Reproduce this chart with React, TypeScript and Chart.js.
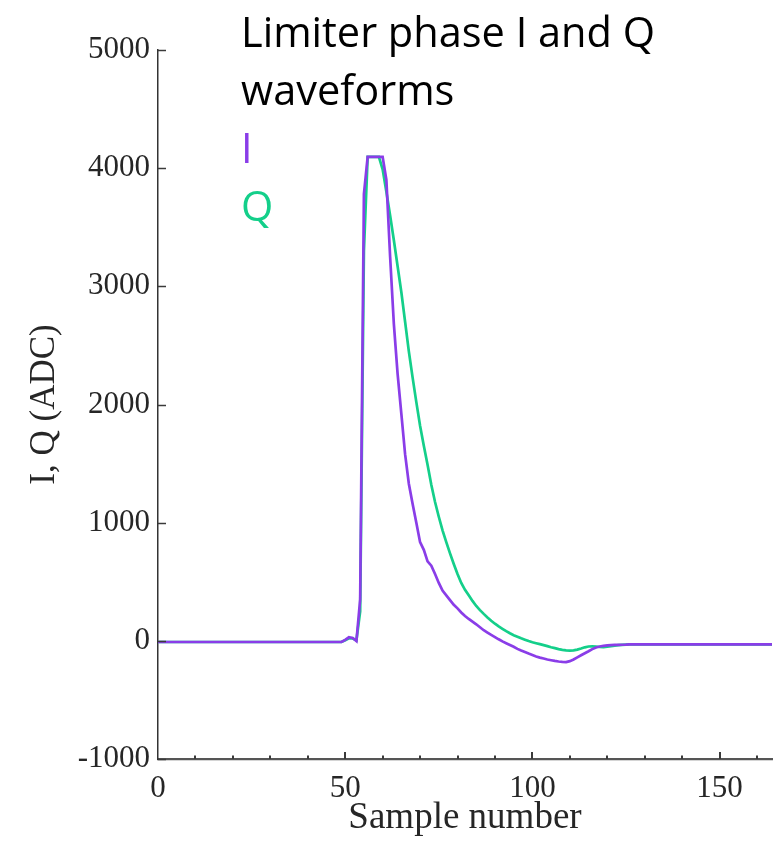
import React, { useEffect, useRef } from 'react';
import { Chart, registerables } from 'chart.js';

Chart.register(...registerables);

// Sample numbers (x axis)
const SAMPLES: number[] = Array.from({ length: 165 }, (_, i) => i);

// I waveform (ADC counts), one value per sample
const I_VALUES: number[] = [
  -10, -10, -10, -10, -10, -10, -10, -10, -10, -10,
  -10, -10, -10, -10, -10, -10, -10, -10, -10, -10,
  -10, -10, -10, -10, -10, -10, -10, -10, -10, -10,
  -10, -10, -10, -10, -10, -10, -10, -10, -10, -10,
  -10, -10, -10, -10, -10, -10, -10, -10, -10, -10,
  8, 30, 24, -2, 350, 3780, 4095, 4095, 4095, 4095,
  4095, 3900, 3250, 2680, 2260, 1920, 1580, 1330, 1160, 1000,
  835, 770, 672, 636, 565, 490, 425, 385, 345, 305,
  275, 240, 210, 185, 163, 140, 115, 90, 70, 50,
  32, 13, -5, -20, -35, -50, -68, -82, -95, -108,
  -120, -132, -142, -150, -158, -164, -170, -175, -178, -180,
  -172, -158, -140, -122, -105, -88, -70, -56, -48, -42,
  -38, -36, -35, -34, -33, -32, -30, -30, -30, -30,
  -30, -30, -30, -30, -30, -30, -30, -30, -30, -30,
  -30, -30, -30, -30, -30, -30, -30, -30, -30, -30,
  -30, -30, -30, -30, -30, -30, -30, -30, -30, -30,
  -30, -30, -30, -30, -30,
];

// Q waveform (ADC counts), one value per sample
const Q_VALUES: number[] = [
  -10, -10, -10, -10, -10, -10, -10, -10, -10, -10,
  -10, -10, -10, -10, -10, -10, -10, -10, -10, -10,
  -10, -10, -10, -10, -10, -10, -10, -10, -10, -10,
  -10, -10, -10, -10, -10, -10, -10, -10, -10, -10,
  -10, -10, -10, -10, -10, -10, -10, -10, -10, -10,
  5, 22, 20, 5, 250, 3300, 4095, 4095, 4095, 4095,
  3990, 3800, 3600, 3390, 3170, 2950, 2700, 2450, 2230, 2020,
  1820, 1650, 1490, 1320, 1175, 1050, 935, 835, 740, 650,
  565, 490, 432, 385, 338, 295, 260, 228, 198, 170,
  145, 122, 102, 82, 64, 48, 35, 22, 10, -2,
  -12, -20, -28, -36, -45, -54, -62, -70, -76, -80,
  -82, -80, -74, -65, -55, -48, -46, -48, -52, -53,
  -50, -45, -40, -37, -34, -32, -30, -30, -30, -30,
  -30, -30, -30, -30, -30, -30, -30, -30, -30, -30,
  -30, -30, -30, -30, -30, -30, -30, -30, -30, -30,
  -30, -30, -30, -30, -30, -30, -30, -30, -30, -30,
  -30, -30, -30, -30, -30,
];

const X_LABELED_TICKS: number[] = [0, 50, 100, 150];
const TITLE_LINES: string[] = ['Limiter phase I and Q', 'waveforms'];
const SERIES_NAMES: string[] = ['I', 'Q'];
const SERIES_COLORS: string[] = ['#8a3de8', '#14cf8a'];

const X_TITLE = 'Sample number';
const Y_TITLE = 'I, Q (ADC)';

const innerTicks = {
  id: 'innerTicks',
  afterDraw(chart: any) {
    const { ctx, scales } = chart;
    const xs = scales.x;
    const ys = scales.y;
    const bottom = chart.chartArea.bottom;
    const left = chart.chartArea.left;
    ctx.save();
    ctx.strokeStyle = '#3a3a3a';
    ctx.lineWidth = 2;
    xs.ticks.forEach((t: any) => {
      if (t.value === 0) return;
      const px = Math.round(xs.getPixelForValue(t.value));
      const len = X_LABELED_TICKS.includes(t.value) ? 7 : 3.5;
      ctx.beginPath();
      ctx.moveTo(px, bottom);
      ctx.lineTo(px, bottom - len);
      ctx.stroke();
    });
    ctx.lineWidth = 1.5;
    ys.ticks.forEach((t: any) => {
      const py = Math.round(ys.getPixelForValue(t.value)) + 0.5;
      ctx.beginPath();
      ctx.moveTo(left, py);
      ctx.lineTo(left + 8, py);
      ctx.stroke();
    });
    ctx.restore();
  },
};

export default function App() {
  const canvasRef = useRef<HTMLCanvasElement | null>(null);

  useEffect(() => {
    if (!canvasRef.current) return;
    const datasets = SERIES_NAMES.map((name, k) => ({
      label: name,
      data: (k === 0 ? I_VALUES : Q_VALUES).map((v, i) => ({ x: SAMPLES[i], y: v })),
      borderColor: SERIES_COLORS[k],
      backgroundColor: SERIES_COLORS[k],
      borderWidth: 2.7,
      pointRadius: 0,
      tension: 0,
      fill: false,
      order: k,
    }));
    const chart = new Chart(canvasRef.current, {
      type: 'line',
      data: { datasets },
      plugins: [innerTicks],
      options: {
        responsive: false,
        animation: false,
        devicePixelRatio: 1,
        layout: { padding: { top: 50, right: 10, left: 0, bottom: 0 } },
        plugins: {
          legend: { display: false },
          title: { display: false },
          tooltip: { enabled: false },
        },
        scales: {
          x: {
            type: 'linear',
            min: 0,
            max: 164,
            grid: { display: false, drawTicks: false },
            border: { display: true, color: '#555555', width: 2.2 },
            ticks: {
              stepSize: 10,
              includeBounds: false,
              autoSkip: false,
              maxRotation: 0,
              padding: 11,
              color: '#262626',
              font: { family: 'Liberation Serif', size: 31 },
              callback: (v: any) => (X_LABELED_TICKS.includes(v) ? String(v) : ''),
            },
            title: {
              display: true,
              text: X_TITLE,
              color: '#262626',
              font: { family: 'Liberation Serif', size: 37 },
              padding: { top: 0, bottom: 10 },
            },
            afterFit: (scale: any) => {
              scale.height = 91;
            },
          },
          y: {
            type: 'linear',
            min: -1000,
            max: 5000,
            grid: { display: false, drawTicks: false },
            border: { display: true, color: '#333333', width: 1.5 },
            ticks: {
              stepSize: 1000,
              padding: 8,
              color: '#262626',
              font: { family: 'Liberation Serif', size: 31 },
              callback: (v: any) => String(v),
            },
            title: {
              display: true,
              text: Y_TITLE,
              color: '#262626',
              font: { family: 'Liberation Serif', size: 35 },
              padding: { top: 24, bottom: 0 },
            },
            afterFit: (scale: any) => {
              scale.width = 158;
            },
          },
        },
      },
    });
    return () => chart.destroy();
  }, []);

  const lineStyle: React.CSSProperties = { whiteSpace: 'nowrap', height: 58 };

  return (
    <div style={{ position: 'absolute', left: 0, top: 0, width: 782, height: 850, background: '#ffffff' }}>
      <canvas ref={canvasRef} width={782} height={850} style={{ display: 'block', width: 782, height: 850 }} />
      <div
        style={{
          position: 'absolute',
          left: 241,
          top: 2,
          fontFamily: '"Open Sans", sans-serif',
          fontSize: 41.5,
          lineHeight: '58px',
          color: '#000000',
        }}
      >
        {TITLE_LINES.map((t) => (
          <div key={t} style={lineStyle}>{t}</div>
        ))}
        {SERIES_NAMES.map((n, k) => (
          <div key={n} style={{ ...lineStyle, color: SERIES_COLORS[k] }}>{n}</div>
        ))}
      </div>
    </div>
  );
}
